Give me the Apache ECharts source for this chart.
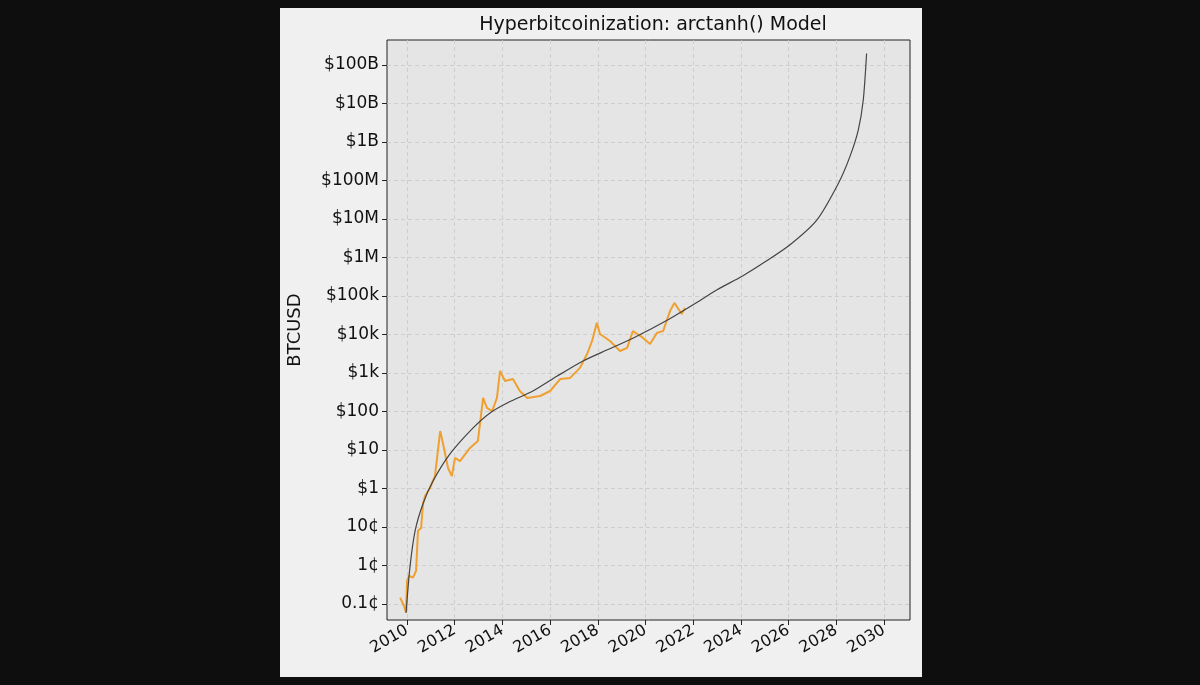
<!DOCTYPE html>
<html><head><meta charset="utf-8">
<script src="https://cdn.jsdelivr.net/npm/echarts@6/dist/echarts.min.js"></script>
<style>html,body{margin:0;background:#0e0e0e;}#c{width:1200px;height:685px;}</style>
</head><body><div id="c"></div>
<script>
// values: [year, log10(USD)]
const priceYears = [2009.71,2009.79,2009.87,2009.96,2010.00,2010.08,2010.25,2010.38,2010.46,2010.59,2010.67,2010.76,2010.96,2011.17,2011.26,2011.39,2011.51,2011.72,2011.88,2012.01,2012.22,2012.64,2012.97,2013.19,2013.35,2013.57,2013.77,2013.90,2014.11,2014.44,2014.73,2015.04,2015.58,2016.00,2016.42,2016.84,2017.25,2017.55,2017.76,2017.96,2018.09,2018.51,2018.93,2019.23,2019.47,2019.90,2020.19,2020.48,2020.74,2021.03,2021.21,2021.52,2021.65];
const priceLog = [-2.84,-2.82,-3.05,-3.23,-2.40,-2.27,-2.32,-2.14,-1.10,-1.03,-0.40,-0.19,0.01,0.32,0.79,1.49,1.16,0.53,0.32,0.79,0.71,1.05,1.23,2.35,2.09,2.01,2.35,3.05,2.79,2.84,2.53,2.35,2.40,2.53,2.84,2.87,3.13,3.49,3.83,4.30,4.01,3.83,3.57,3.65,4.09,3.91,3.75,4.04,4.09,4.61,4.82,4.53,4.69];
const modelYears = [2009.96,2010.12,2010.34,2010.67,2011.09,2011.81,2012.77,2013.48,2014.3,2015.28,2016.3,2017.38,2018.4,2019.47,2021.0,2022.29,2023.0,2024.07,2025.0,2026.06,2027.18,2028.09,2028.57,2028.92,2029.13,2029.27];
const modelLog = [-3.23,-2.06,-1.10,-0.40,0.19,0.90,1.57,1.96,2.25,2.53,2.92,3.31,3.60,3.90,4.40,4.88,5.16,5.52,5.88,6.33,6.97,7.93,8.62,9.31,10.09,11.30];
const yTickValues = [-3,-2,-1,0,1,2,3,4,5,6,7,8,9,10,11];
const yTickLabels = ['0.1¢','1¢','10¢','$1','$10','$100','$1k','$10k','$100k','$1M','$10M','$100M','$1B','$10B','$100B'];
const xTickValues = [2010,2012,2014,2016,2018,2020,2022,2024,2026,2028,2030];

const pair = (a,b)=>a.map((v,i)=>[v,b[i]]);
const ch = echarts.init(document.getElementById('c'));
const font = 'DejaVu Sans';
ch.setOption({
  animation:false,
  backgroundColor:'#0e0e0e',
  graphic:[{type:'rect',z:-10,silent:true,shape:{x:280,y:8,width:642,height:669},style:{fill:'#f0f0f0'}}],
  title:{text:'Hyperbitcoinization: arctanh() Model',left:648,top:11,textAlign:'center',
    textStyle:{fontFamily:font,fontSize:19,fontWeight:'normal',color:'#111'}},
  grid:{left:387,right:290,top:40,bottom:65,show:true,backgroundColor:'#e5e5e5',borderColor:'#222',borderWidth:1},
  xAxis:{type:'value',min:2009.16,max:2031.09,
    axisLine:{show:false,onZero:false},
    axisTick:{show:true,customValues:xTickValues,length:5,lineStyle:{color:'#222'}},
    axisLabel:{customValues:xTickValues,rotate:30,fontFamily:font,fontSize:16,color:'#111',margin:9,formatter:v=>String(v)},
    splitLine:{show:true,lineStyle:{color:'#c8c8c8',type:[4,3],width:0.8}}},
  yAxis:{type:'value',min:-3.42,max:11.65,name:'BTCUSD',nameLocation:'middle',nameGap:83,
    nameTextStyle:{fontFamily:font,fontSize:18,color:'#111'},
    axisLine:{show:false,onZero:false},
    axisTick:{show:true,customValues:yTickValues,length:5,lineStyle:{color:'#222'}},
    axisLabel:{customValues:yTickValues,fontFamily:font,fontSize:17,color:'#111',margin:8,
      formatter:v=>yTickLabels[yTickValues.indexOf(Math.round(v))]},
    splitLine:{show:true,lineStyle:{color:'#c8c8c8',type:[4,3],width:0.8}}},
  series:[
    {type:'line',data:pair(priceYears,priceLog),showSymbol:false,lineStyle:{color:'#f0a030',width:2},z:2},
    {type:'line',data:pair(modelYears,modelLog),showSymbol:false,smooth:0.25,lineStyle:{color:'#444',width:1.2},z:3}
  ]
});
</script></body></html>
